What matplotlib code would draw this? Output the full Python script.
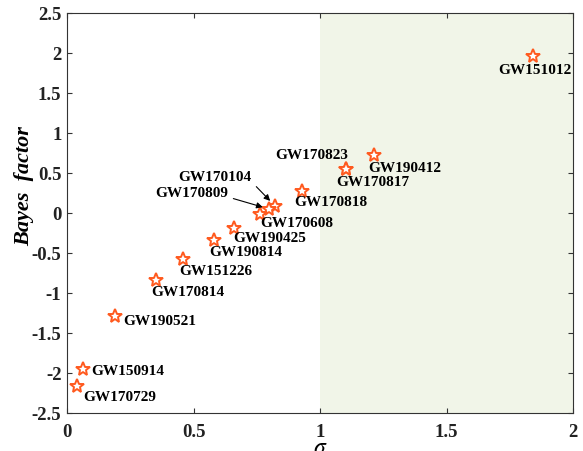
import numpy as np
import matplotlib.pyplot as plt

plt.rcParams['font.family'] = ['Liberation Serif', 'DejaVu Serif']
plt.rcParams['mathtext.fontset'] = 'stix'

names = ['GW151012', 'GW190412', 'GW170817', 'GW170823', 'GW170818', 'GW170104',
         'GW170809', 'GW170608', 'GW190425', 'GW190814', 'GW151226', 'GW170814',
         'GW190521', 'GW150914', 'GW170729']
sigma = [1.842, 1.213, 1.103, 1.103, 0.929, 0.822,
         0.800, 0.763, 0.660, 0.580, 0.458, 0.352,
         0.190, 0.063, 0.040]
bayes = [1.96, 0.725, 0.55, 0.55, 0.275, 0.09,
         0.05, -0.01, -0.19, -0.34, -0.575, -0.84,
         -1.29, -1.95, -2.16]
# label offsets in pixels (dx, dy)
offsets = [(2, -14), (31, -13), (27, -13), (-34, 14), (29, -11), (-60, 28),
           (-78, 16), (37, -10), (36, -10), (32, -12), (33, -12), (32, -12),
           (45, -5), (45, -2), (43, -12)]
arrows = ['GW170104', 'GW170809']

fig = plt.figure(figsize=(5.83, 4.51), dpi=100)
ax = fig.add_axes([0.115, 0.084, 0.868, 0.887])
ax.axvspan(1, 2, color='#f1f5e8', zorder=0, lw=0)
ax.plot(sigma, bayes, ls='none', marker='*', ms=10, mfc='white', mec='#ff5a1f', mew=1.4, zorder=3)

for n, x, y, (dx, dy) in zip(names, sigma, bayes, offsets):
    if n in arrows:
        ax.annotate(n, (x, y), xytext=(dx, dy), textcoords='offset pixels',
                    ha='center', va='center', fontsize=11, fontweight='bold',
                    arrowprops=dict(arrowstyle='-|>', color='black', lw=0.8,
                                    mutation_scale=9, relpos=(1.0, 0.2), shrinkB=5))
    else:
        ax.annotate(n, (x, y), xytext=(dx, dy), textcoords='offset pixels',
                    ha='center', va='center', fontsize=11, fontweight='bold')

ax.set_xlim(0, 2)
ax.set_ylim(-2.5, 2.5)
ax.set_xticks([0, 0.5, 1, 1.5, 2])
ax.set_xticklabels(['0', '0.5', '1', '1.5', '2'])
ax.set_yticks(np.arange(-2.5, 2.51, 0.5))
ax.set_yticklabels(['-2.5', '-2', '-1.5', '-1', '-0.5', '0', '0.5', '1', '1.5', '2', '2.5'])
ax.tick_params(direction='in', top=True, right=True, labelsize=13.5, color='#333333')
ax.tick_params(axis='x', pad=8)
ax.tick_params(axis='y', pad=4)
for lab in ax.get_xticklabels() + ax.get_yticklabels():
    lab.set_fontweight('bold')
    lab.set_color('#222222')
for s in ax.spines.values():
    s.set_color('#333333')
    s.set_linewidth(0.8)

ax.set_ylabel('Bayes  factor', fontsize=16, fontweight='bold', style='italic')
ax.yaxis.set_label_coords(-0.065, 0.567)
ax.set_xlabel(r'$\sigma$', fontsize=17)
ax.xaxis.set_label_coords(0.5, -0.062)

fig.savefig('out.png', dpi=100)
